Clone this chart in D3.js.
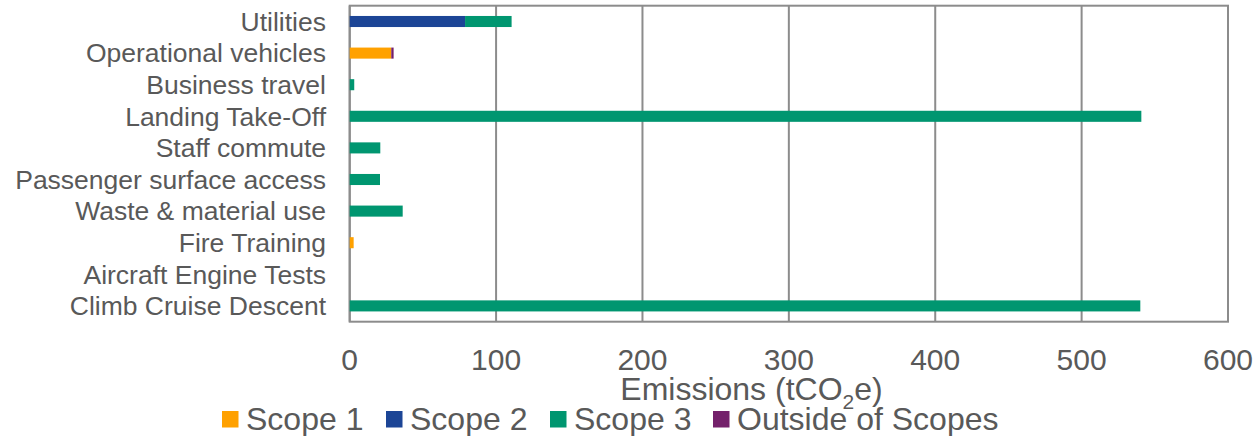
<!DOCTYPE html>
<html>
<head>
<meta charset="utf-8">
<script src="https://cdn.jsdelivr.net/npm/d3@7"></script>
<style>
  html, body { margin: 0; padding: 0; background: #fff; }
  svg { display: block; font-family: "Liberation Sans", Arial, sans-serif; }
</style>
</head>
<body>
<svg id="chart" width="1258" height="436"></svg>
<script>
// ---- Data ----
const categories = [
  "Utilities",
  "Operational vehicles",
  "Business travel",
  "Landing Take-Off",
  "Staff commute",
  "Passenger surface access",
  "Waste & material use",
  "Fire Training",
  "Aircraft Engine Tests",
  "Climb Cruise Descent"
];
const seriesNames = ["Scope 1", "Scope 2", "Scope 3", "Outside of Scopes"];
const scope1  = [0, 28.4, 0, 0, 0, 0, 0, 2.7, 0, 0];
const scope2  = [78.8, 0, 0, 0, 0, 0, 0, 0, 0, 0];
const scope3  = [31.8, 0, 3.1, 540.8, 20.9, 20.7, 36.2, 0, 0, 540.1];
const outside = [0, 1.6, 0, 0, 0, 0, 0, 0, 0, 0];
const xTicks = [0, 100, 200, 300, 400, 500, 600];
const colors = ["#FFA100", "#1C4596", "#009670", "#74216B"];

// ---- Layout ----
const svg = d3.select("#chart");
const plotL = 349.7, plotR = 1228, plotT = 5.7, plotB = 321.7;
const textColor = "#595959";
const gridColor = "#8C8C8C";

const x = d3.scaleLinear().domain([0, 600]).range([plotL, plotR]);
const y = d3.scaleBand().domain(categories).range([plotT, plotB])
  .paddingInner(0.65).paddingOuter(0.325);

// gridlines
svg.append("g").selectAll("line").data(xTicks).join("line")
  .attr("x1", d => x(d)).attr("x2", d => x(d))
  .attr("y1", plotT).attr("y2", plotB)
  .attr("stroke", gridColor).attr("stroke-width", 2);

// plot border
svg.append("rect")
  .attr("x", plotL).attr("y", plotT)
  .attr("width", plotR - plotL).attr("height", plotB - plotT)
  .attr("fill", "none").attr("stroke", gridColor).attr("stroke-width", 2);

// stacked bars
const rows = categories.map((c, i) => ({
  cat: c, "Scope 1": scope1[i], "Scope 2": scope2[i], "Scope 3": scope3[i], "Outside of Scopes": outside[i]
}));
const stacked = d3.stack().keys(seriesNames)(rows);
svg.append("g").selectAll("g").data(stacked).join("g")
  .attr("fill", (d, i) => colors[i])
  .selectAll("rect").data(d => d.filter(s => s[1] - s[0] > 0)).join("rect")
  .attr("x", d => x(d[0]))
  .attr("width", d => x(d[1]) - x(d[0]))
  .attr("y", d => y(d.data.cat))
  .attr("height", y.bandwidth());

// category labels
svg.append("g").selectAll("text").data(categories).join("text")
  .attr("x", 326)
  .attr("y", d => y(d) + y.bandwidth() / 2)
  .attr("dy", "0.35em")
  .attr("text-anchor", "end")
  .attr("font-size", 26.5)
  .attr("fill", textColor)
  .text(d => d);

// x tick labels
svg.append("g").selectAll("text").data(xTicks).join("text")
  .attr("x", d => x(d))
  .attr("y", 370)
  .attr("text-anchor", "middle")
  .attr("font-size", 30)
  .attr("fill", textColor)
  .text(d => d);

// axis title
const title = svg.append("text")
  .attr("x", 751.5).attr("y", 400)
  .attr("text-anchor", "middle")
  .attr("font-size", 32)
  .attr("fill", textColor);
title.append("tspan").text("Emissions (tCO");
title.append("tspan").attr("font-size", 21).attr("dy", 9).text("2");
title.append("tspan").attr("dy", -9).text("e)");

// legend
const legendX = [222, 386, 550, 713];
const lg = svg.append("g").selectAll("g").data(seriesNames).join("g")
  .attr("transform", (d, i) => `translate(${legendX[i]},0)`);
lg.append("rect").attr("x", 0).attr("y", 411).attr("width", 16.5).attr("height", 16.5)
  .attr("fill", (d, i) => colors[i]);
lg.append("text").attr("x", 24).attr("y", 429.5)
  .attr("font-size", 32).attr("fill", textColor)
  .text(d => d);
</script>
</body>
</html>
